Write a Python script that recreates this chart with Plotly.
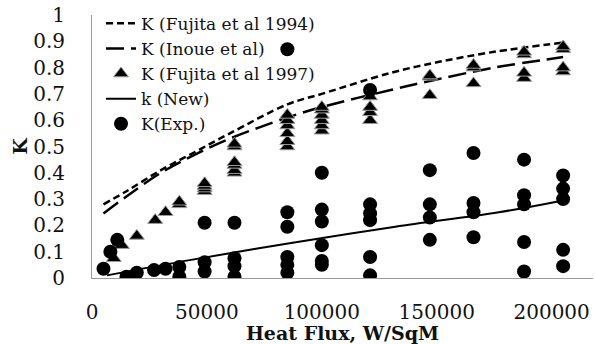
import plotly.graph_objects as go

# Model curves: heat flux (W/m^2) vs K
curve_q = [5000, 15000, 30000, 45000, 60000, 85000, 100000, 130000, 150000, 175000, 205000]
k_fujita_1994 = [0.28, 0.33, 0.41, 0.48, 0.55, 0.66, 0.70, 0.78, 0.82, 0.86, 0.895]
k_inoue = [0.245, 0.31, 0.40, 0.47, 0.53, 0.61, 0.65, 0.715, 0.755, 0.80, 0.84]

new_q = [6500, 42500, 88000, 132000, 177000, 205000]
k_new = [0.01, 0.068, 0.135, 0.195, 0.25, 0.295]

# Fujita et al 1997 correlation points
f97_q = [9500, 13000, 19500, 27500, 32000, 38000, 38000,
         49000, 49000, 49000, 49000,
         62000, 62000, 62000, 62000, 62000, 62000,
         85000, 85000, 85000, 85000, 85000, 85000,
         100000, 100000, 100000, 100000, 100000, 100000,
         121000, 121000, 121000, 121000,
         147000, 147000, 147000,
         166000, 166000, 166000,
         188000, 188000, 188000, 188000,
         205000, 205000, 205000, 205000]
f97_k = [0.075, 0.125, 0.16, 0.22, 0.25, 0.28, 0.29,
         0.33, 0.34, 0.35, 0.36,
         0.40, 0.41, 0.43, 0.44, 0.50, 0.51,
         0.50, 0.52, 0.55, 0.58, 0.60, 0.62,
         0.56, 0.58, 0.60, 0.62, 0.64, 0.65,
         0.60, 0.63, 0.65, 0.69,
         0.695, 0.765, 0.77,
         0.74, 0.80, 0.81,
         0.76, 0.78, 0.85, 0.86,
         0.785, 0.80, 0.87, 0.88]

# Experimental values
exp_q = [5000, 8000, 11000, 15000, 19500, 27000, 32000, 38000, 38000,
         49000, 49000, 49000,
         62000, 62000, 62000, 62000,
         85000, 85000, 85000, 85000, 85000, 85000,
         100000, 100000, 100000, 100000, 100000, 100000,
         121000, 121000, 121000, 121000, 121000, 121000,
         147000, 147000, 147000, 147000,
         166000, 166000, 166000, 166000,
         188000, 188000, 188000, 188000, 188000,
         205000, 205000, 205000, 205000, 205000]
exp_k = [0.035, 0.10, 0.145, 0.005, 0.02, 0.03, 0.035, 0.042, 0.005,
         0.21, 0.06, 0.025,
         0.21, 0.075, 0.045, 0.005,
         0.87, 0.25, 0.195, 0.08, 0.05, 0.02,
         0.40, 0.26, 0.215, 0.125, 0.065, 0.05,
         0.715, 0.28, 0.245, 0.22, 0.08, 0.01,
         0.41, 0.28, 0.23, 0.145,
         0.475, 0.285, 0.25, 0.155,
         0.45, 0.315, 0.28, 0.137, 0.025,
         0.39, 0.34, 0.30, 0.107, 0.045]

x_ticks = [0, 50000, 100000, 150000, 200000]
y_ticks = [0, 0.1, 0.2, 0.3, 0.4, 0.5, 0.6, 0.7, 0.8, 0.9, 1]

FONT = "DejaVu Serif"
INK = "#111111"

fig = go.Figure()
fig.add_trace(go.Scatter(
    x=curve_q, y=k_fujita_1994, mode="lines", name="K (Fujita et al 1994)",
    line=dict(color="black", width=2.5, dash="7px,4px", shape="spline"),
))
fig.add_trace(go.Scatter(
    x=curve_q, y=k_inoue, mode="lines", name="K (Inoue et al)",
    line=dict(color="black", width=2.5, dash="18px,7px", shape="spline"),
))
fig.add_trace(go.Scatter(
    x=f97_q, y=f97_k, mode="markers", name="K (Fujita et al 1997)",
    marker=dict(symbol="triangle-up", size=13, color="black",
                line=dict(color="#9a9a9a", width=1)),
))
fig.add_trace(go.Scatter(
    x=new_q, y=k_new, mode="lines", name="k (New)",
    line=dict(color="black", width=2, shape="spline"),
))
fig.add_trace(go.Scatter(
    x=exp_q, y=exp_k, mode="markers", name="K(Exp.)",
    marker=dict(symbol="circle", size=14, color="black", line=dict(width=0)),
))

fig.update_layout(
    width=595, height=344,
    margin=dict(l=92, r=2, t=15, b=66),
    paper_bgcolor="white", plot_bgcolor="white",
    font=dict(family=FONT, size=20, color=INK),
    showlegend=True,
    legend=dict(
        x=0.018, y=1.035, xanchor="left", yanchor="top",
        bgcolor="rgba(0,0,0,0)", borderwidth=0,
        font=dict(family=FONT, size=17, color=INK),
        itemwidth=30, tracegroupgap=0,
    ),
)
fig.update_xaxes(
    range=[0, 218000], tickvals=x_ticks, tickformat="d",
    showgrid=False, zeroline=False,
    showline=True, linecolor="#9a9a9a", linewidth=1,
    ticks="", ticklabelstandoff=16,
    tickfont=dict(family=FONT, size=20, color=INK),
    title=dict(text="<b>Heat Flux, W/SqM</b>", standoff=6,
               font=dict(family=FONT, size=19, color=INK)),
)
fig.update_yaxes(
    range=[0, 1], tickvals=y_ticks,
    showgrid=False, zeroline=False,
    showline=True, linecolor="#9a9a9a", linewidth=1,
    ticks="", ticklabelstandoff=22,
    tickfont=dict(family=FONT, size=20, color=INK),
    title=dict(text="<b>K</b>", standoff=0,
               font=dict(family=FONT, size=19, color=INK)),
)

fig.write_html("out.html")
